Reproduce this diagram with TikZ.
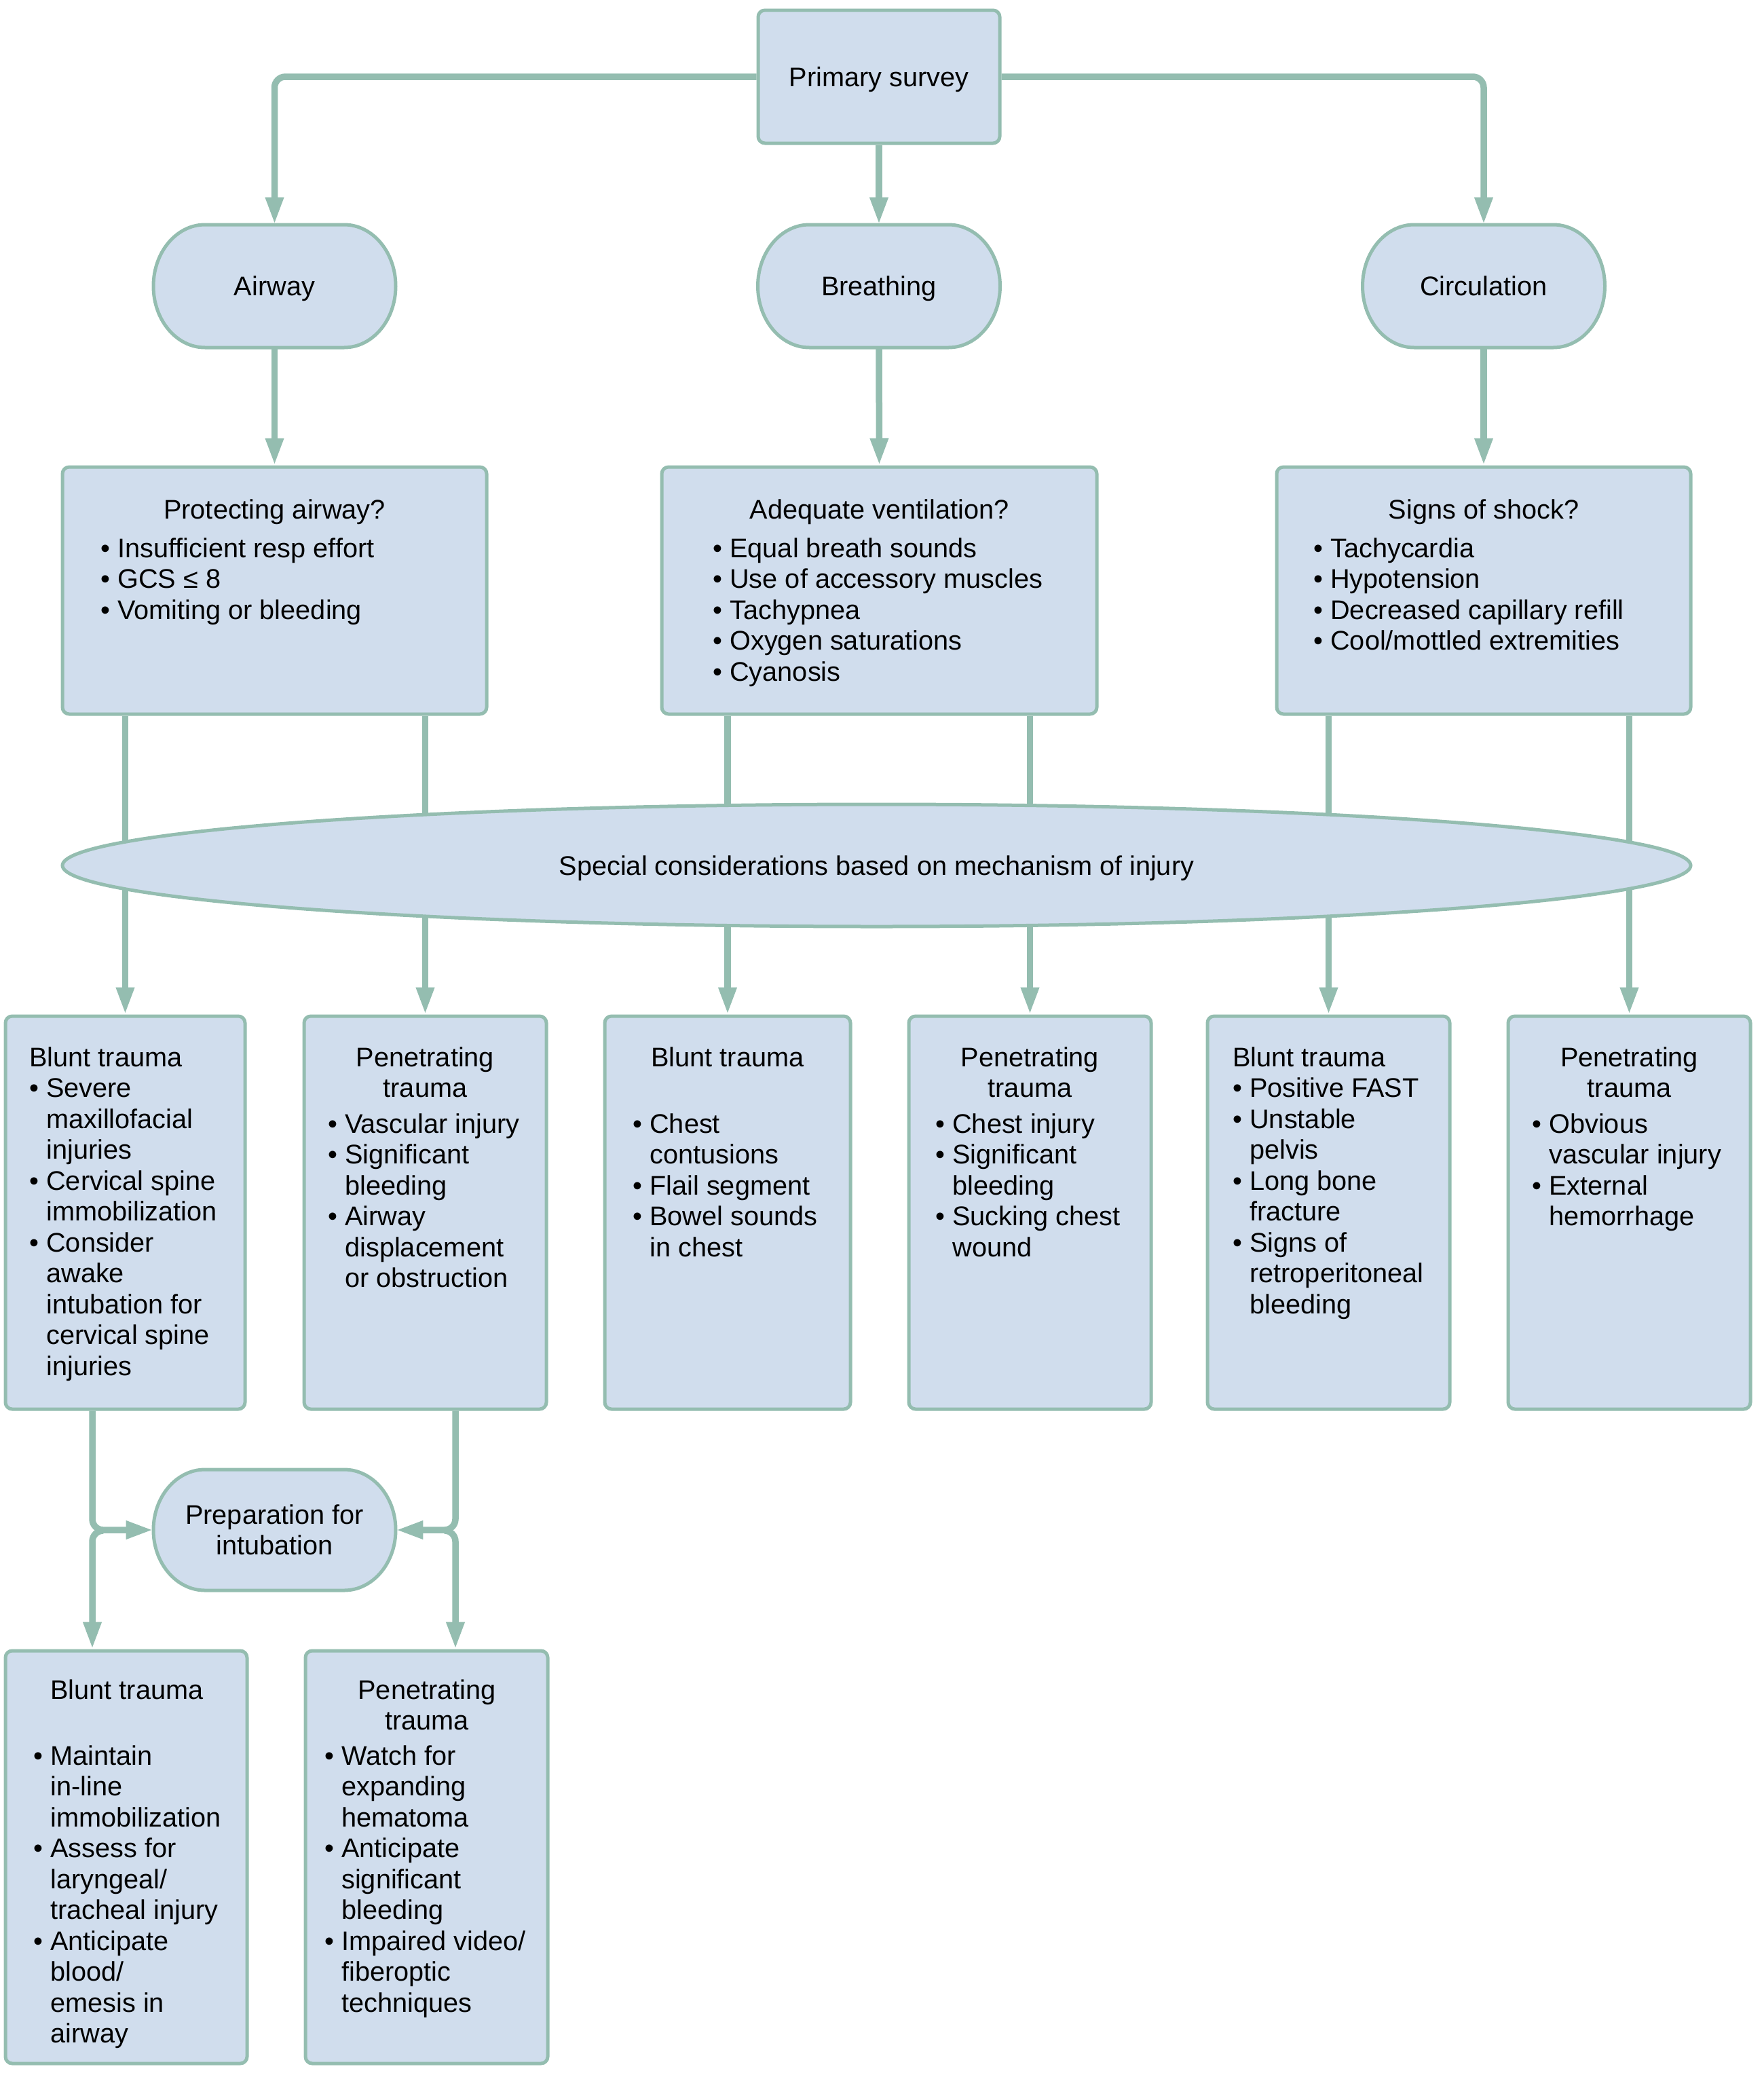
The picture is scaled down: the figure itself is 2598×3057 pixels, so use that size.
\documentclass[tikz,border=0pt]{standalone}
\usepackage{fontspec}
\setmainfont{Liberation Sans}
\usetikzlibrary{arrows.meta,shapes.geometric}
\definecolor{bd}{RGB}{148,189,176}
\definecolor{fl}{RGB}{208,221,237}
\newcommand\mybul{\textbullet\ }
\newcommand\myind{\phantom{\textbullet\ }}
% [node options], name, cx, cy, half width, half height, end x-radius, text
\newcommand\stadium[8][]{%
  \path[stadst] ({#3-#5+#7},{#4-#6}) -- ({#3+#5-#7},{#4-#6})
    .. controls ({#3+#5-#7+0.5523*#7},{#4-#6}) and ({#3+#5},{#4-0.5523*#6}) .. ({#3+#5},{#4})
    .. controls ({#3+#5},{#4+0.5523*#6}) and ({#3+#5-#7+0.5523*#7},{#4+#6}) .. ({#3+#5-#7},{#4+#6})
    -- ({#3-#5+#7},{#4+#6})
    .. controls ({#3-#5+#7-0.5523*#7},{#4+#6}) and ({#3-#5},{#4+0.5523*#6}) .. ({#3-#5},{#4})
    .. controls ({#3-#5},{#4-0.5523*#6}) and ({#3-#5+#7-0.5523*#7},{#4-#6}) .. cycle;
  \node[ctxt, minimum width=#5pt, minimum height=#6pt, #1] (#2) at (#3,#4) {#8};
}
\begin{document}
\begin{tikzpicture}[x=0.5pt,y=-0.5pt,
  font=\fontsize{19.85pt}{22.75pt}\selectfont,
  box/.style={draw=bd, fill=fl, line width=2.5pt, rounded corners=5pt, inner sep=0pt},
  stadst/.style={draw=bd, fill=fl, line width=2.5pt},
  conn/.style={draw=bd, line width=4.75pt, -{Triangle[width=12.5pt,length=20pt]}},
  txt/.style={inner sep=0pt, align=left},
  ctxt/.style={inner sep=0pt, align=center},
  oneline/.style={text height=14.3pt, text depth=0pt},
]
\useasboundingbox (0,0) rectangle (2598,3057);

% top
\node[box, oneline, minimum width=178pt, minimum height=98pt] (ps) at (1295,113) {Primary survey};
\stadium[oneline]{air}{404.5}{421.5}{178.5}{90.5}{76}{Airway}
\stadium[oneline]{brt}{1295}{421.5}{178.5}{90.5}{76}{Breathing}
\stadium[oneline]{cir}{2186}{421.5}{178.5}{90.5}{76}{Circulation}

% row 3
\node[box, minimum width=312.5pt, minimum height=182pt] (prot) at (404.5,870) {};
\node[box, minimum width=320.5pt, minimum height=182pt] (vent) at (1295.5,870) {};
\node[box, minimum width=305pt, minimum height=182pt] (shock) at (2186,870) {};
\node[ctxt, anchor=north] (protT) at (404.5,735) {Protecting airway?};
\node[txt, anchor=north west] (protL) at (148,792) {\mybul Insufficient resp effort\\ \mybul GCS ≤ 8\\ \mybul Vomiting or bleeding};
\node[ctxt, anchor=north] (ventT) at (1295.5,735) {Adequate ventilation?};
\node[txt, anchor=north west] (ventL) at (1050,792) {\mybul Equal breath sounds\\ \mybul Use of accessory muscles\\ \mybul Tachypnea\\ \mybul Oxygen saturations\\ \mybul Cyanosis};
\node[ctxt, anchor=north] (shockT) at (2186,735) {Signs of shock?};
\node[txt, anchor=north west] (shockL) at (1935,792) {\mybul Tachycardia\\ \mybul Hypotension\\ \mybul Decreased capillary refill\\ \mybul Cool/mottled extremities};

% row 4
\node[box, minimum width=176.5pt, minimum height=289.5pt] (b1) at (184.5,1786.5) {};
\node[box, minimum width=178.5pt, minimum height=289.5pt] (b2) at (626.5,1786.5) {};
\node[box, minimum width=181pt, minimum height=289.5pt] (b3) at (1072,1786.5) {};
\node[box, minimum width=178.5pt, minimum height=289.5pt] (b4) at (1517.5,1786.5) {};
\node[box, minimum width=178.5pt, minimum height=289.5pt] (b5) at (1957.5,1786.5) {};
\node[box, minimum width=178.5pt, minimum height=289.5pt] (b6) at (2400.5,1786.5) {};

\node[txt, anchor=north west] (b1L) at (43,1542) {Blunt trauma\\ \mybul Severe\\ \myind maxillofacial\\ \myind injuries\\ \mybul Cervical spine\\ \myind immobilization\\ \mybul Consider\\ \myind awake\\ \myind intubation for\\ \myind cervical spine\\ \myind injuries};
\node[ctxt, anchor=north] (b2T) at (626.5,1542) {Penetrating\\trauma};
\node[txt, anchor=north west] (b2L) at (483,1640) {\mybul Vascular injury\\ \mybul Significant\\ \myind bleeding\\ \mybul Airway\\ \myind displacement\\ \myind or obstruction};
\node[ctxt, anchor=north] (b3T) at (1072,1542) {Blunt trauma};
\node[txt, anchor=north west] (b3L) at (932,1640) {\mybul Chest\\ \myind contusions\\ \mybul Flail segment\\ \mybul Bowel sounds\\ \myind in chest};
\node[ctxt, anchor=north] (b4T) at (1517.5,1542) {Penetrating\\trauma};
\node[txt, anchor=north west] (b4L) at (1378,1640) {\mybul Chest injury\\ \mybul Significant\\ \myind bleeding\\ \mybul Sucking chest\\ \myind wound};
\node[txt, anchor=north west] (b5L) at (1816,1542) {Blunt trauma\\ \mybul Positive FAST\\ \mybul Unstable\\ \myind pelvis\\ \mybul Long bone\\ \myind fracture\\ \mybul Signs of\\ \myind retroperitoneal\\ \myind bleeding};
\node[ctxt, anchor=north] (b6T) at (2400.5,1542) {Penetrating\\trauma};
\node[txt, anchor=north west] (b6L) at (2257,1640) {\mybul Obvious\\ \myind vascular injury\\ \mybul External\\ \myind hemorrhage};

% preparation
\stadium{prep}{404.5}{2254}{178.5}{89}{76}{Preparation for\\intubation}

% row 5
\node[box, minimum width=178pt, minimum height=304pt] (b7) at (186,2736) {};
\node[box, minimum width=178.5pt, minimum height=304pt] (b8) at (628.5,2736) {};
\node[ctxt, anchor=north] (b7T) at (187,2474) {Blunt trauma};
\node[txt, anchor=north west] (b7L) at (49,2571) {\mybul Maintain\\ \myind in-line\\ \myind immobilization\\ \mybul Assess for\\ \myind laryngeal/\\ \myind tracheal injury\\ \mybul Anticipate\\ \myind blood/\\ \myind emesis in\\ \myind airway};
\node[ctxt, anchor=north] (b8T) at (629,2474) {Penetrating\\trauma};
\node[txt, anchor=north west] (b8L) at (478,2571) {\mybul Watch for\\ \myind expanding\\ \myind hematoma\\ \mybul Anticipate\\ \myind significant\\ \myind bleeding\\ \mybul Impaired video/\\ \myind fiberoptic\\ \myind techniques};

% connectors
\draw[conn, rounded corners=8pt] (ps.west) -| (air.north);
\draw[conn, rounded corners=8pt] (ps.east) -| (cir.north);
\draw[conn] (ps.south) -- (brt.north);
\draw[conn] (air.south) -- (prot.north);
\draw[conn] (brt.south) -- (vent.north);
\draw[conn] (cir.south) -- (shock.north);
\foreach \s/\t in {prot/b1, prot/b2, vent/b3, vent/b4, shock/b5, shock/b6}
  \draw[conn] (\t.north |- \s.south) -- (\t.north);

% ellipse on top of through-lines
\node[ellipse, draw=bd, fill=fl, line width=2.5pt, minimum width=1199.5pt, minimum height=90pt, inner sep=0pt, oneline] (ell) at (1291.5,1275) {Special considerations based on mechanism of injury};

\coordinate (jL) at (136,2255);
\coordinate (jR) at (671,2255);
\draw[conn, rounded corners=8pt] (jL |- b1.south) |- (prep.west);
\draw[conn, rounded corners=8pt] ([xshift=8pt]jL) -| (jL |- b7.north);
\draw[conn, rounded corners=8pt] (jR |- b2.south) |- (prep.east);
\draw[conn, rounded corners=8pt] ([xshift=-8pt]jR) -| (jR |- b8.north);
\end{tikzpicture}
\end{document}
